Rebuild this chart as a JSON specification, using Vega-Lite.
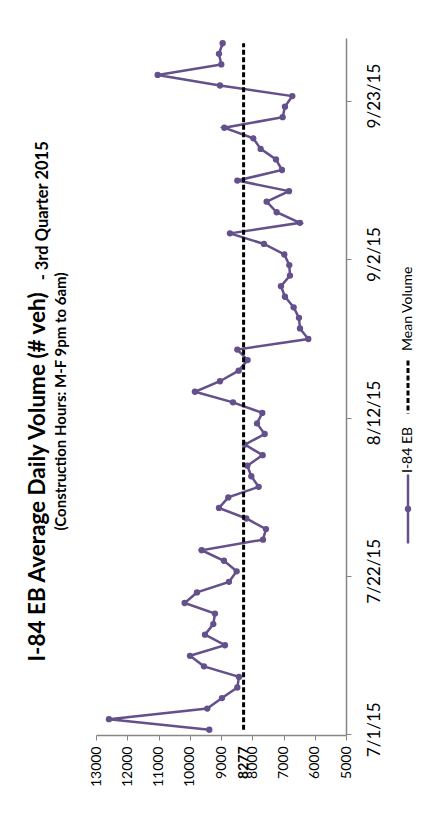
{
  "$schema": "https://vega.github.io/schema/vega-lite/v6.json",
  "padding": {"left": 26, "top": 37, "right": 5, "bottom": 5},
  "config": {
    "font": "Lato",
    "view": {"stroke": null},
    "axis": {"labelFont": "Lato", "labelOverlap": false},
    "axisX": {"labelOverlap": false}
  },
  "datasets": {
    "volume": [
      {"day": "7/1/15", "volume": 9374},
      {"day": "7/2/15", "volume": 12585},
      {"day": "7/3/15", "volume": 9438},
      {"day": "7/6/15", "volume": 8969},
      {"day": "7/7/15", "volume": 8478},
      {"day": "7/8/15", "volume": 8425},
      {"day": "7/9/15", "volume": 9545},
      {"day": "7/10/15", "volume": 9993},
      {"day": "7/13/15", "volume": 8873},
      {"day": "7/14/15", "volume": 9513},
      {"day": "7/15/15", "volume": 9246},
      {"day": "7/16/15", "volume": 9193},
      {"day": "7/17/15", "volume": 10163},
      {"day": "7/20/15", "volume": 9769},
      {"day": "7/21/15", "volume": 8745},
      {"day": "7/22/15", "volume": 8499},
      {"day": "7/23/15", "volume": 8905},
      {"day": "7/24/15", "volume": 9619},
      {"day": "7/27/15", "volume": 7657},
      {"day": "7/28/15", "volume": 7561},
      {"day": "7/29/15", "volume": 8190},
      {"day": "7/30/15", "volume": 9065},
      {"day": "7/31/15", "volume": 8766},
      {"day": "8/3/15", "volume": 7795},
      {"day": "8/4/15", "volume": 8030},
      {"day": "8/5/15", "volume": 8158},
      {"day": "8/6/15", "volume": 7667},
      {"day": "8/7/15", "volume": 8233},
      {"day": "8/10/15", "volume": 7603},
      {"day": "8/11/15", "volume": 7849},
      {"day": "8/12/15", "volume": 7678},
      {"day": "8/13/15", "volume": 8617},
      {"day": "8/14/15", "volume": 9833},
      {"day": "8/17/15", "volume": 9033},
      {"day": "8/18/15", "volume": 8435},
      {"day": "8/19/15", "volume": 8147},
      {"day": "8/20/15", "volume": 8478},
      {"day": "8/21/15", "volume": 6206},
      {"day": "8/24/15", "volume": 6473},
      {"day": "8/25/15", "volume": 6505},
      {"day": "8/26/15", "volume": 6675},
      {"day": "8/27/15", "volume": 6953},
      {"day": "8/28/15", "volume": 7081},
      {"day": "8/31/15", "volume": 6793},
      {"day": "9/1/15", "volume": 6814},
      {"day": "9/2/15", "volume": 6974},
      {"day": "9/3/15", "volume": 7625},
      {"day": "9/4/15", "volume": 8713},
      {"day": "9/7/15", "volume": 6473},
      {"day": "9/8/15", "volume": 7219},
      {"day": "9/9/15", "volume": 7539},
      {"day": "9/10/15", "volume": 6825},
      {"day": "9/11/15", "volume": 8478},
      {"day": "9/14/15", "volume": 7049},
      {"day": "9/15/15", "volume": 7241},
      {"day": "9/16/15", "volume": 7731},
      {"day": "9/17/15", "volume": 7966},
      {"day": "9/18/15", "volume": 8894},
      {"day": "9/21/15", "volume": 7027},
      {"day": "9/22/15", "volume": 6953},
      {"day": "9/23/15", "volume": 6718},
      {"day": "9/24/15", "volume": 9033},
      {"day": "9/25/15", "volume": 11027},
      {"day": "9/28/15", "volume": 8990},
      {"day": "9/29/15", "volume": 9065},
      {"day": "9/30/15", "volume": 8947}
    ]
  },
  "title": {
    "text": "I-84 EB Average Daily Volume (# veh)",
    "orient": "left",
    "anchor": "start",
    "frame": "bounds",
    "fontSize": 22.5,
    "fontWeight": "bold",
    "color": "#000000",
    "baseline": "alphabetic",
    "offset": -33,
    "dx": 125
  },
  "spacing": 18,
  "hconcat": [
    {
      "title": {
        "text": "- 3rd Quarter 2015",
        "orient": "left",
        "anchor": "end",
        "frame": "bounds",
        "fontSize": 16.5,
        "fontWeight": "bold",
        "color": "#000000",
        "baseline": "alphabetic",
        "offset": -10.5,
        "dx": -104
      },
      "hconcat": [
        {
          "width": 250,
          "height": 697,
          "data": {"name": "volume"},
          "title": {
            "text": "(Construction Hours: M-F 9pm to 6am)",
            "orient": "left",
            "anchor": "middle",
            "frame": "group",
            "fontSize": 15,
            "fontWeight": "bold",
            "color": "#000000",
            "baseline": "alphabetic",
            "offset": 8.5,
            "dx": -15
          },
          "encoding": {
            "y": {
              "field": "day",
              "type": "ordinal",
              "sort": null,
              "bandPosition": 0.5,
              "scale": {"type": "band", "paddingInner": 0, "paddingOuter": 0, "reverse": true},
              "axis": {
                "orient": "right",
                "values": ["7/1/15", "7/22/15", "8/12/15", "9/2/15", "9/23/15"],
                "bandPosition": 1,
                "title": null,
                "grid": false,
                "labelAngle": 270,
                "labelAlign": "center",
                "labelBaseline": "top",
                "labelFontSize": 17,
                "labelColor": "#000000",
                "labelPadding": 15,
                "labelOverlap": false,
                "tickSize": 5,
                "tickColor": "#868686",
                "domainColor": "#868686",
                "domainWidth": 1.5
              }
            },
            "order": {"value": null}
          },
          "layer": [
            {
              "mark": {
                "type": "line",
                "orient": "horizontal",
                "color": "#64508A",
                "strokeWidth": 2.5,
                "point": {"filled": true, "size": 40, "color": "#64508A", "opacity": 1}
              },
              "encoding": {
                "x": {
                  "field": "volume",
                  "type": "quantitative",
                  "scale": {"domain": [5000, 13000], "reverse": true, "nice": false, "zero": false},
                  "axis": {
                    "orient": "bottom",
                    "values": [13000, 12000, 11000, 10000, 9000, 8277, 8000, 7000, 6000, 5000],
                    "format": "d",
                    "title": null,
                    "grid": false,
                    "labelAngle": 270,
                    "labelAlign": "right",
                    "labelBaseline": "middle",
                    "labelFontSize": 14,
                    "labelColor": "#000000",
                    "labelPadding": 6,
                    "labelOverlap": false,
                    "labelFlush": false,
                    "labelBound": false,
                    "labelFontWeight": {"condition": {"test": "datum.value === 8277", "value": "bold"}, "value": "normal"},
                    "tickOpacity": {"condition": {"test": "datum.value === 8277", "value": 0}, "value": 1},
                    "tickSize": 5,
                    "tickColor": "#868686",
                    "domainColor": "#868686",
                    "domainWidth": 1.5
                  }
                }
              }
            },
            {
              "mark": {
                "type": "line",
                "orient": "horizontal",
                "color": "#000000",
                "strokeWidth": 3,
                "strokeDash": [5, 2.5]
              },
              "encoding": {
                "x": {
                  "datum": 8277,
                  "type": "quantitative",
                  "axis": {
                    "orient": "bottom",
                    "values": [13000, 12000, 11000, 10000, 9000, 8277, 8000, 7000, 6000, 5000],
                    "format": "d",
                    "title": null,
                    "grid": false,
                    "labelAngle": 270,
                    "labelAlign": "right",
                    "labelBaseline": "middle",
                    "labelFontSize": 14,
                    "labelColor": "#000000",
                    "labelPadding": 6,
                    "labelOverlap": false,
                    "labelFlush": false,
                    "labelBound": false,
                    "labelFontWeight": {"condition": {"test": "datum.value === 8277", "value": "bold"}, "value": "normal"},
                    "tickOpacity": {"condition": {"test": "datum.value === 8277", "value": 0}, "value": 1},
                    "tickSize": 5,
                    "tickColor": "#868686",
                    "domainColor": "#868686",
                    "domainWidth": 1.5
                  }
                }
              }
            }
          ]
        }
      ]
    },
    {
      "width": 16,
      "height": 697,
      "data": {"values": [{"series": "I-84 EB"}, {"series": "Mean Volume"}]},
      "encoding": {
        "y": {
          "field": "series",
          "type": "nominal",
          "scale": {"type": "point", "domain": ["Mean Volume", "I-84 EB"], "range": [349, 471], "padding": 0},
          "axis": null
        }
      },
      "layer": [
        {
          "transform": [{"filter": "datum.series === 'I-84 EB'"}],
          "mark": {"type": "point", "shape": "M0,-1L0,1", "filled": false, "color": "#64508A", "strokeWidth": 2.5, "size": 4761, "opacity": 1}
        },
        {
          "transform": [{"filter": "datum.series === 'I-84 EB'"}],
          "mark": {"type": "point", "shape": "circle", "filled": true, "color": "#64508A", "size": 40, "opacity": 1}
        },
        {
          "transform": [{"filter": "datum.series === 'Mean Volume'"}],
          "mark": {"type": "point", "shape": "M0,-1L0,1", "filled": false, "color": "#000000", "strokeWidth": 3, "strokeDash": [5, 2.5], "size": 2809, "opacity": 1}
        },
        {
          "mark": {"type": "text", "angle": 270, "align": "left", "baseline": "middle", "dx": 36, "fontSize": 14, "color": "#000000"},
          "encoding": {"text": {"field": "series"}}
        }
      ]
    }
  ]
}
